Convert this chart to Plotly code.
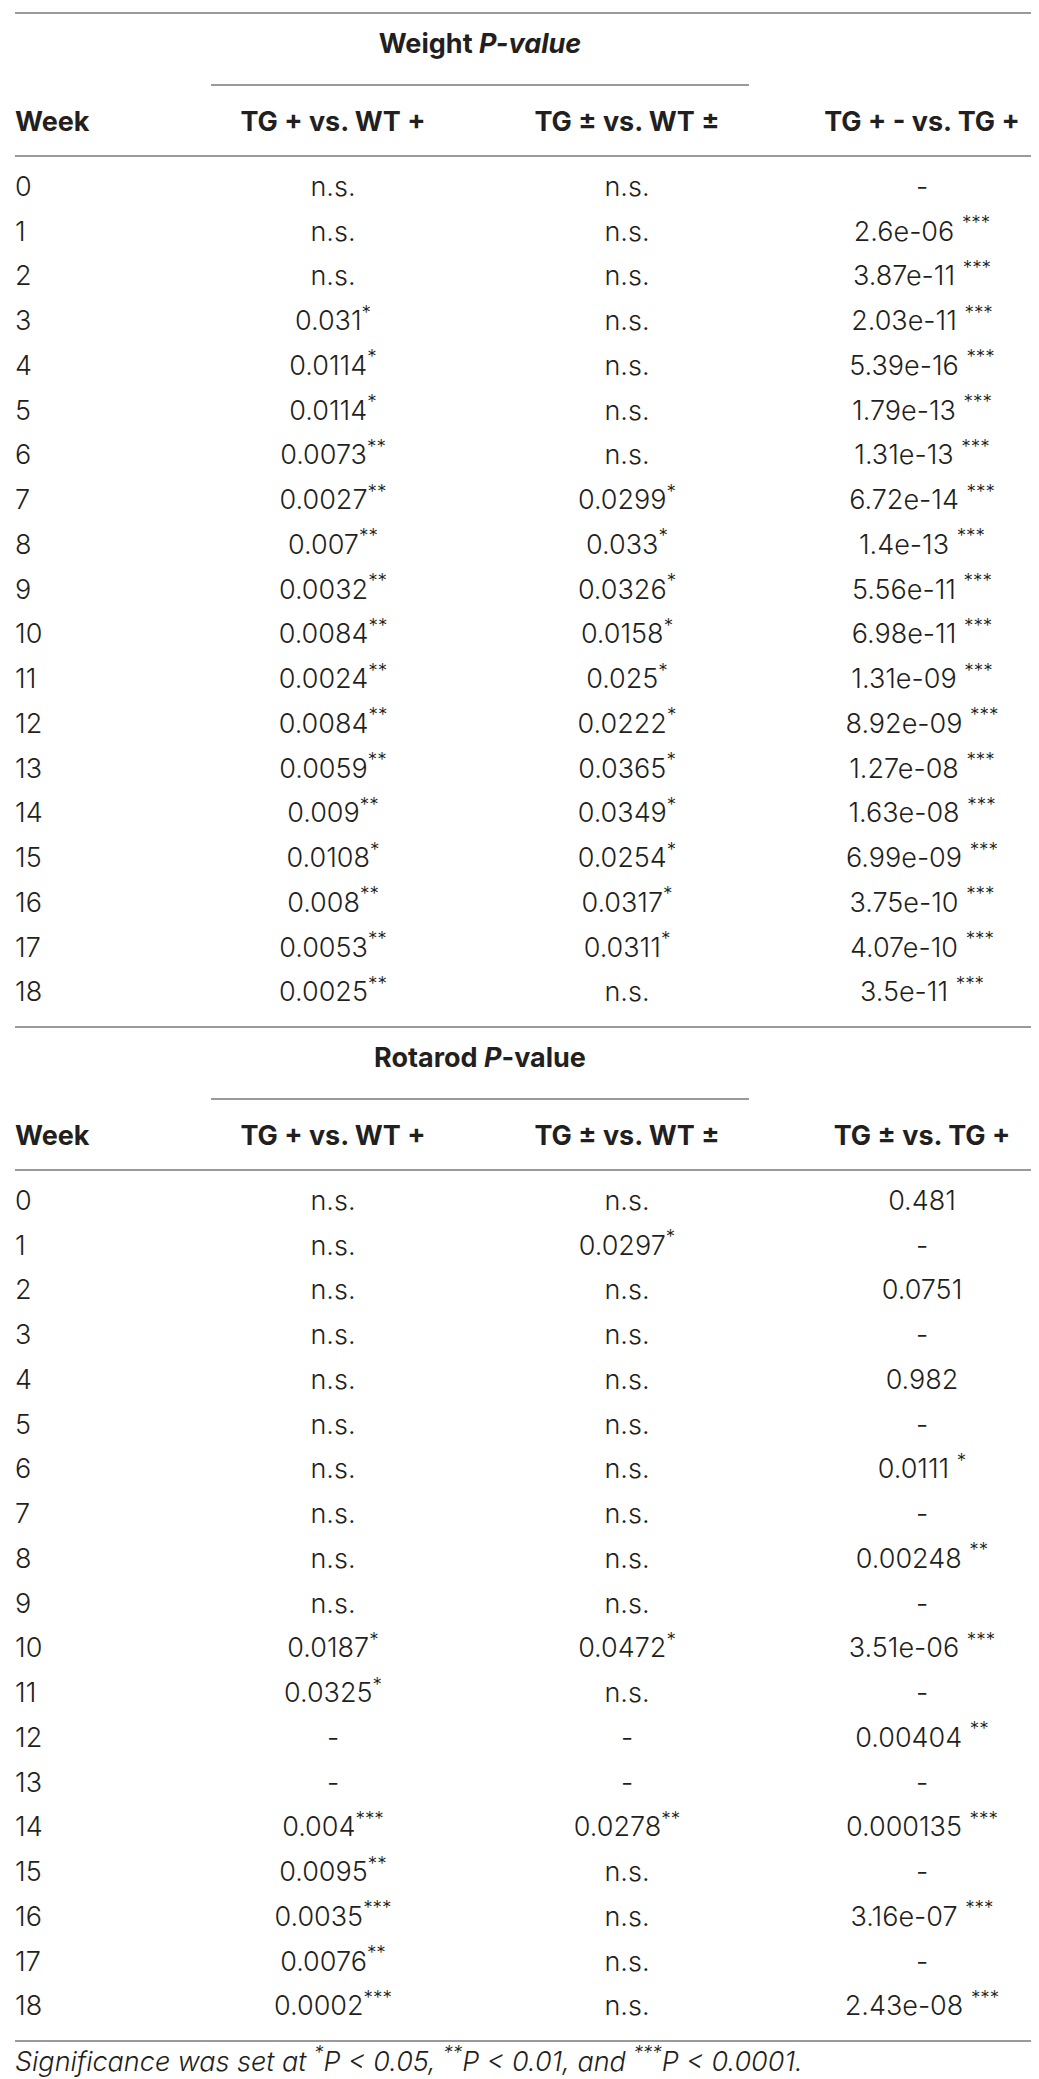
"""
Two stacked P-value tables (body weight and rotarod) drawn as text
traces on a blank Plotly canvas, with rules added as layout shapes.
"""

import re
import plotly.graph_objects as go


weeks = [str(w) for w in range(19)]

weight_tg_vs_wt = ['n.s.', 'n.s.', 'n.s.', '0.031*', '0.0114*', '0.0114*',
                   '0.0073**', '0.0027**', '0.007**', '0.0032**', '0.0084**',
                   '0.0024**', '0.0084**', '0.0059**', '0.009**', '0.0108*',
                   '0.008**', '0.0053**', '0.0025**']
weight_het_vs_wt = ['n.s.', 'n.s.', 'n.s.', 'n.s.', 'n.s.', 'n.s.', 'n.s.',
                    '0.0299*', '0.033*', '0.0326*', '0.0158*', '0.025*',
                    '0.0222*', '0.0365*', '0.0349*', '0.0254*', '0.0317*',
                    '0.0311*', 'n.s.']
weight_het_vs_tg = ['-', '2.6e-06 ***', '3.87e-11 ***', '2.03e-11 ***',
                    '5.39e-16 ***', '1.79e-13 ***', '1.31e-13 ***',
                    '6.72e-14 ***', '1.4e-13 ***', '5.56e-11 ***',
                    '6.98e-11 ***', '1.31e-09 ***', '8.92e-09 ***',
                    '1.27e-08 ***', '1.63e-08 ***', '6.99e-09 ***',
                    '3.75e-10 ***', '4.07e-10 ***', '3.5e-11 ***']

rotarod_tg_vs_wt = ['n.s.', 'n.s.', 'n.s.', 'n.s.', 'n.s.', 'n.s.', 'n.s.',
                    'n.s.', 'n.s.', 'n.s.', '0.0187*', '0.0325*', '-', '-',
                    '0.004***', '0.0095**', '0.0035***', '0.0076**',
                    '0.0002***']
rotarod_het_vs_wt = ['n.s.', '0.0297*', 'n.s.', 'n.s.', 'n.s.', 'n.s.',
                     'n.s.', 'n.s.', 'n.s.', 'n.s.', '0.0472*', 'n.s.', '-',
                     '-', '0.0278**', 'n.s.', 'n.s.', 'n.s.', 'n.s.']
rotarod_het_vs_tg = ['0.481', '-', '0.0751', '-', '0.982', '-', '0.0111 *',
                     '-', '0.00248 **', '-', '3.51e-06 ***', '-',
                     '0.00404 **', '-', '0.000135 ***', '-', '3.16e-07 ***',
                     '-', '2.43e-08 ***']

weight_title = 'Weight <i>P-value</i>'
rotarod_title = 'Rotarod <i>P</i>-value'
weight_headers = ['Week', 'TG + vs. WT +', 'TG ± vs. WT ±', 'TG + - vs. TG +']
rotarod_headers = ['Week', 'TG + vs. WT +', 'TG ± vs. WT ±', 'TG ± vs. TG +']
footnote = ('Significance was set at *P < 0.05, **P < 0.01, '
            'and ***P < 0.0001.')

W, H = 1039, 2079
FONT = 'Inter, Roboto, Liberation Sans, Arial'
TEXT = '#231f20'
RULE = '#9a9a9a'
SIZE = 27

COL_X = [7, 325, 619, 914]
SECTION_H = 1014
ROW_PITCH = 44.75


def stars_up(s):
    """Raises runs of asterisks to superscript."""
    return re.sub(r'(\*+)', r'<sup>\1</sup>', s)


def hline(fig, y, x0=7, x1=1037):
    fig.add_shape(type='line', x0=x0, x1=x1, y0=y, y1=y,
                  xref='x', yref='y', line=dict(color=RULE, width=2))


def add_section(fig, top, title, headers, columns):
    """
    Adds one table section whose top rule sits at y=top
    """
    hline(fig, top)
    fig.add_trace(go.Scatter(
        x=[(COL_X[1] + COL_X[2]) / 2], y=[top + 33], mode='text',
        text=['<b>' + title + '</b>'], textposition='middle center',
        textfont=dict(family=FONT, size=SIZE, color=TEXT)))
    hline(fig, top + 72, 203, 741)

    for i, head in enumerate(headers):
        fig.add_trace(go.Scatter(
            x=[COL_X[i]], y=[top + 111], mode='text',
            text=['<b>' + head + '</b>'],
            textposition='middle right' if i == 0 else 'middle center',
            textfont=dict(family=FONT, size=SIZE, color=TEXT)))
    hline(fig, top + 143)

    row_y = [top + 176 + k * ROW_PITCH for k in range(len(weeks))]
    for i, col in enumerate(columns):
        fig.add_trace(go.Scatter(
            x=[COL_X[i]] * len(col), y=row_y, mode='text',
            text=[stars_up(v) for v in col],
            textposition='middle right' if i == 0 else 'middle center',
            textfont=dict(family=FONT, size=SIZE, color=TEXT,
                          weight=300)))
    hline(fig, top + SECTION_H)


def main():
    fig = go.Figure()
    add_section(fig, 5, weight_title, weight_headers,
                [weeks, weight_tg_vs_wt, weight_het_vs_wt, weight_het_vs_tg])
    add_section(fig, 5 + SECTION_H, rotarod_title, rotarod_headers,
                [weeks, rotarod_tg_vs_wt, rotarod_het_vs_wt,
                 rotarod_het_vs_tg])

    fig.add_trace(go.Scatter(
        x=[COL_X[0]], y=[2056], mode='text',
        text=['<i>' + stars_up(footnote.replace('<', '&lt;')) + '</i>'],
        textposition='middle right',
        textfont=dict(family=FONT, size=SIZE, color=TEXT, weight=300)))

    fig.update_layout(
        width=W, height=H, showlegend=False,
        margin=dict(l=0, r=0, t=0, b=0),
        paper_bgcolor='white', plot_bgcolor='white',
        xaxis=dict(range=[0, W], visible=False, fixedrange=True),
        yaxis=dict(range=[H, 0], visible=False, fixedrange=True))
    fig.write_html('out.html')


if __name__ == '__main__':
    main()
